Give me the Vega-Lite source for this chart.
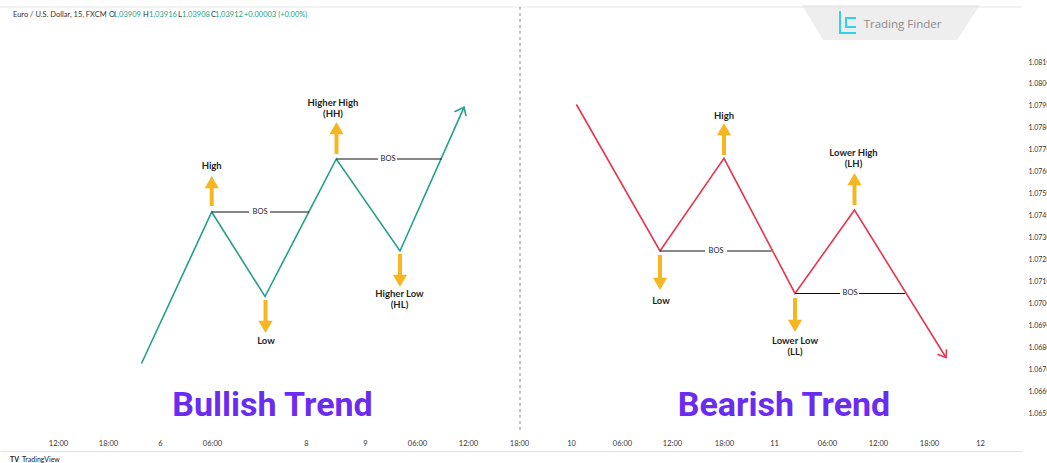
{
  "$schema": "https://vega.github.io/schema/vega-lite/v6.json",
  "width": 1022,
  "height": 432,
  "autosize": {"type": "none"},
  "padding": {"left": 0, "top": 0, "right": 25, "bottom": 31},
  "background": "#ffffff",
  "config": {"view": {"stroke": null}},
  "resolve": {"scale": {"color": "independent"}},
  "datasets": {
    "trend": [
      {"x": 70.85, "y": 1.067281, "s": "bull", "o": 0, "side": "bull"},
      {"x": 105.85, "y": 1.074163, "s": "bull", "o": 1, "side": "bull"},
      {"x": 132.5, "y": 1.070312, "s": "bull", "o": 2, "side": "bull"},
      {"x": 168.15, "y": 1.076579, "s": "bull", "o": 3, "side": "bull"},
      {"x": 200, "y": 1.072386, "s": "bull", "o": 4, "side": "bull"},
      {"x": 232, "y": 1.078935, "s": "bull", "o": 5, "side": "bull"},
      {"x": 227.5, "y": 1.078744, "s": "bullA", "o": 0, "side": "bull"},
      {"x": 232, "y": 1.078935, "s": "bullA", "o": 1, "side": "bull"},
      {"x": 233, "y": 1.078562, "s": "bullA", "o": 2, "side": "bull"},
      {"x": 288.35, "y": 1.07904, "s": "bear", "o": 0, "side": "bear"},
      {"x": 330, "y": 1.072386, "s": "bear", "o": 1, "side": "bear"},
      {"x": 362, "y": 1.076611, "s": "bear", "o": 2, "side": "bear"},
      {"x": 397.5, "y": 1.070449, "s": "bear", "o": 3, "side": "bear"},
      {"x": 427.25, "y": 1.074254, "s": "bear", "o": 4, "side": "bear"},
      {"x": 473, "y": 1.067532, "s": "bear", "o": 5, "side": "bear"},
      {"x": 473.25, "y": 1.067873, "s": "bearA", "o": 0, "side": "bear"},
      {"x": 473, "y": 1.067532, "s": "bearA", "o": 1, "side": "bear"},
      {"x": 469, "y": 1.067668, "s": "bearA", "o": 2, "side": "bear"}
    ],
    "bos": [
      {"x": 105.85, "x2": 124.5, "y": 1.074163},
      {"x": 135, "x2": 154.5, "y": 1.074163},
      {"x": 168.15, "x2": 189, "y": 1.076579},
      {"x": 198.5, "x2": 220.85, "y": 1.076579},
      {"x": 330, "x2": 352.5, "y": 1.072386},
      {"x": 363.5, "x2": 385.85, "y": 1.072386},
      {"x": 397.5, "x2": 420, "y": 1.070449},
      {"x": 429.5, "x2": 452.5, "y": 1.070449}
    ],
    "bosText": [
      {"x": 130, "y": 1.074163, "t": "BOS"},
      {"x": 194, "y": 1.076579, "t": "BOS"},
      {"x": 358, "y": 1.072386, "t": "BOS"},
      {"x": 425, "y": 1.070449, "t": "BOS"}
    ],
    "shafts": [
      {"x": 105.85, "y": 1.075348, "y2": 1.074437},
      {"x": 168.25, "y": 1.07781, "y2": 1.076807},
      {"x": 362, "y": 1.077764, "y2": 1.076761},
      {"x": 427.25, "y": 1.075485, "y2": 1.074482},
      {"x": 132.75, "y": 1.070152, "y2": 1.069104},
      {"x": 200, "y": 1.072249, "y2": 1.071201},
      {"x": 330, "y": 1.072203, "y2": 1.071064},
      {"x": 397.5, "y": 1.070244, "y2": 1.06915}
    ],
    "heads": [
      {"x": 105.85, "y": 1.075526, "dir": "up"},
      {"x": 168.25, "y": 1.077987, "dir": "up"},
      {"x": 362, "y": 1.077942, "dir": "up"},
      {"x": 427.25, "y": 1.075663, "dir": "up"},
      {"x": 132.75, "y": 1.068926, "dir": "down"},
      {"x": 200, "y": 1.071023, "dir": "down"},
      {"x": 330, "y": 1.070886, "dir": "down"},
      {"x": 397.5, "y": 1.068972, "dir": "down"}
    ],
    "labels": [
      {"x": 105.85, "y": 1.07626, "t": "High"},
      {"x": 133, "y": 1.068261, "t": "Low"},
      {"x": 166.5, "y": 1.079118, "t": "Higher High"},
      {"x": 166.5, "y": 1.07863, "t": "(HH)"},
      {"x": 199.75, "y": 1.070426, "t": "Higher Low"},
      {"x": 199.75, "y": 1.069924, "t": "(HL)"},
      {"x": 362, "y": 1.078553, "t": "High"},
      {"x": 426.75, "y": 1.076839, "t": "Lower High"},
      {"x": 426.75, "y": 1.076351, "t": "(LH)"},
      {"x": 330.5, "y": 1.070107, "t": "Low"},
      {"x": 397.5, "y": 1.068297, "t": "Lower Low"},
      {"x": 397.5, "y": 1.067796, "t": "(LL)"}
    ],
    "titles": [
      {"x": 136.25, "y": 1.064865, "t": "Bullish Trend"},
      {"x": 392, "y": 1.064865, "t": "Bearish Trend"}
    ],
    "headerK": [
      {"x": 6.5, "y": 1.083142, "t": "Euro / U.S. Dollar, 15, FXCM"},
      {"x": 54.5, "y": 1.083142, "t": "O"},
      {"x": 71.5, "y": 1.083142, "t": "H"},
      {"x": 89, "y": 1.083142, "t": "L"},
      {"x": 105.5, "y": 1.083142, "t": "C"}
    ],
    "headerG": [
      {"x": 56.5, "y": 1.083142, "t": "1.03909"},
      {"x": 74.5, "y": 1.083142, "t": "1.03916"},
      {"x": 91, "y": 1.083142, "t": "1.03908"},
      {"x": 107.5, "y": 1.083142, "t": "1.03912"},
      {"x": 122, "y": 1.083142, "t": "+0.00003 (+0.00%)"}
    ],
    "wm": [
      {"x": 401, "y": 1.083598, "y2": 1.083598},
      {"x": 411.5, "y": 1.082003, "y2": 1.083598},
      {"x": 478.5, "y": 1.082003, "y2": 1.083598},
      {"x": 490, "y": 1.083598, "y2": 1.083598}
    ],
    "logo": [
      {"x": 420, "y": 1.083325, "s": "a", "o": 0},
      {"x": 420, "y": 1.082322, "s": "a", "o": 1},
      {"x": 428, "y": 1.082322, "s": "a", "o": 2},
      {"x": 428, "y": 1.083006, "s": "b", "o": 0},
      {"x": 423, "y": 1.083006, "s": "b", "o": 1},
      {"x": 423, "y": 1.082595, "s": "b", "o": 2},
      {"x": 428, "y": 1.082595, "s": "b", "o": 3}
    ]
  },
  "encoding": {
    "x": {
      "field": "x", "type": "quantitative",
      "scale": {"domain": [0, 511], "nice": false, "zero": false},
      "axis": {
        "orient": "bottom", "title": null, "grid": false, "ticks": false, "tickSize": 0,
        "domain": true, "domainColor": "#e3e3e3", "offset": 19, "labelPadding": -12,
        "labelFontSize": 7.5, "labelColor": "#333333", "labelFont": "Lato",
        "labelOverlap": false, "labelBound": false, "labelFlush": false,
        "values": [29, 54, 80, 106, 153, 182.5, 208.5, 234, 259.5, 285.5, 311, 336, 362, 387, 413.5, 439, 464.5, 490],
        "labelExpr": "['12:00','18:00','6','06:00','8','9','06:00','12:00','18:00','10','06:00','12:00','18:00','11','06:00','12:00','18:00','12'][indexof([29,54,80,106,153,182.5,208.5,234,259.5,285.5,311,336,362,387,413.5,439,464.5,490], datum.value)]"
      }
    },
    "y": {
      "field": "y", "type": "quantitative",
      "scale": {"domain": [1.064136, 1.083826], "nice": false, "zero": false},
      "axis": {
        "orient": "right", "title": null, "grid": false, "ticks": false, "tickSize": 0,
        "domain": false, "labelPadding": 6, "labelFontSize": 7, "labelColor": "#333333",
        "labelFont": "Lato", "labelAlign": "left", "labelOverlap": false, "labelBound": false,
        "format": ".4f",
        "values": [1.065, 1.066, 1.067, 1.068, 1.069, 1.07, 1.071, 1.072, 1.073, 1.074, 1.075, 1.076, 1.077, 1.078, 1.079, 1.08, 1.081]
      }
    }
  },
  "layer": [
    {
      "data": {"name": "wm"},
      "mark": {"type": "area", "color": "#eeeeee", "opacity": 1},
      "encoding": {"y2": {"field": "y2"}}
    },
    {
      "data": {"values": [{"x": 0, "x2": 511, "y": 1.083507}]},
      "mark": {"type": "rule", "color": "#e6e6e6", "strokeWidth": 1},
      "encoding": {"x2": {"field": "x2"}}
    },
    {
      "data": {"values": [{"x": 260, "y": 1.083507, "y2": 1.064136}]},
      "mark": {"type": "rule", "color": "#8a8a8a", "strokeWidth": 1, "strokeDash": [3, 3]},
      "encoding": {"y2": {"field": "y2"}}
    },
    {
      "data": {"name": "trend"},
      "mark": {"type": "line", "strokeWidth": 1.6, "strokeCap": "round", "strokeJoin": "miter"},
      "encoding": {
        "detail": {"field": "s"},
        "order": {"field": "o", "type": "quantitative"},
        "color": {"field": "side", "type": "nominal", "scale": {"domain": ["bull", "bear"], "range": ["#22a08a", "#e8354d"]}, "legend": null}
      }
    },
    {
      "data": {"name": "bos"},
      "mark": {"type": "rule", "color": "#111111", "strokeWidth": 1.2},
      "encoding": {"x2": {"field": "x2"}}
    },
    {
      "data": {"name": "bosText"},
      "mark": {"type": "text", "font": "Lato", "fontSize": 7.5, "color": "#222222", "align": "center", "baseline": "middle"},
      "encoding": {"text": {"field": "t"}}
    },
    {
      "data": {"name": "shafts"},
      "mark": {"type": "rule", "color": "#f6b622", "strokeWidth": 4, "strokeCap": "butt"},
      "encoding": {"y2": {"field": "y2"}}
    },
    {
      "data": {"name": "heads"},
      "mark": {"type": "point", "filled": true, "size": 200, "color": "#f6b622", "opacity": 1},
      "encoding": {
        "shape": {"field": "dir", "type": "nominal", "scale": {"domain": ["up", "down"], "range": ["triangle-up", "triangle-down"]}, "legend": null}
      }
    },
    {
      "data": {"name": "labels"},
      "mark": {"type": "text", "font": "Lato", "fontSize": 9.5, "fontWeight": "bold", "color": "#1f1f1f", "align": "center", "baseline": "middle"},
      "encoding": {"text": {"field": "t"}}
    },
    {
      "data": {"name": "titles"},
      "mark": {"type": "text", "font": "Roboto", "fontSize": 34, "fontWeight": "bold", "color": "#6a2cf0", "align": "center", "baseline": "alphabetic"},
      "encoding": {"text": {"field": "t"}}
    },
    {
      "data": {"name": "headerK"},
      "mark": {"type": "text", "font": "Lato", "fontSize": 7.5, "color": "#333333", "align": "left", "baseline": "middle"},
      "encoding": {"text": {"field": "t"}}
    },
    {
      "data": {"name": "headerG"},
      "mark": {"type": "text", "font": "Lato", "fontSize": 7.5, "color": "#22a08a", "align": "left", "baseline": "middle"},
      "encoding": {"text": {"field": "t"}}
    },
    {
      "data": {"name": "logo"},
      "mark": {"type": "line", "strokeWidth": 2, "color": "#2fd3e8", "strokeJoin": "miter"},
      "encoding": {
        "detail": {"field": "s"},
        "order": {"field": "o", "type": "quantitative"}
      }
    },
    {
      "data": {"values": [{"x": 451.25, "y": 1.082687, "t": "Trading Finder"}]},
      "mark": {"type": "text", "font": "Open Sans", "fontSize": 11.5, "color": "#8a8a8a", "align": "center", "baseline": "middle"},
      "encoding": {"text": {"field": "t"}}
    },
    {
      "data": {"values": [{"x": 5, "y": 1.06286, "t": "TV"}]},
      "mark": {"type": "text", "font": "Lato", "fontSize": 7, "fontWeight": "bold", "color": "#222222", "align": "left", "baseline": "middle"},
      "encoding": {"text": {"field": "t"}}
    },
    {
      "data": {"values": [{"x": 11, "y": 1.06286, "t": "TradingView"}]},
      "mark": {"type": "text", "font": "Lato", "fontSize": 7, "color": "#222222", "align": "left", "baseline": "middle"},
      "encoding": {"text": {"field": "t"}}
    }
  ]
}
